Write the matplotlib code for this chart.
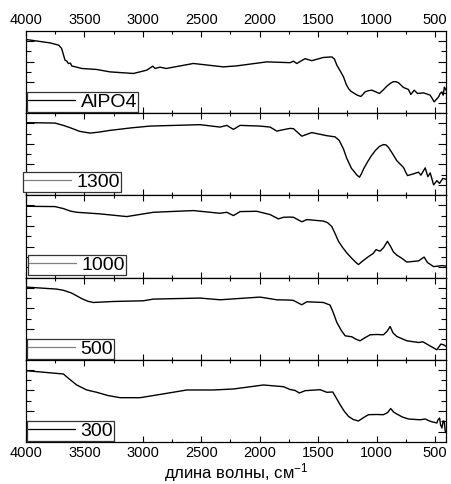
import numpy as np
import matplotlib
matplotlib.use("Agg")
import matplotlib.pyplot as plt
from matplotlib.ticker import MultipleLocator, FixedLocator

plt.rcParams['font.family'] = ['Liberation Sans', 'DejaVu Sans']
plt.rcParams['mathtext.fontset'] = 'custom'
plt.rcParams['mathtext.rm'] = 'Liberation Sans'
plt.rcParams['mathtext.it'] = 'Liberation Sans'

# IR spectra (wavenumber, cm^-1 ; transmittance, arbitrary units)
labels = ["AlPO4", "1300", "1000", "500", "300"]

wn_alpo4 = [4000, 3795, 3720, 3695, 3666, 3650, 3638, 3620, 3609, 3523, 3395, 3281, 3081,
            2967, 2915, 2895, 2853, 2800, 2568, 2311, 2197, 1939, 1740, 1711, 1683, 1612,
            1555, 1455, 1383, 1360, 1340, 1310, 1283, 1260, 1241, 1220, 1198, 1165, 1135,
            1115, 1098, 1070, 1041, 1010, 976, 945, 912, 880, 856, 835, 813, 770,
            727, 707, 678, 650, 598, 541, 507, 469, 455, 441, 430, 420, 413, 406]
t_alpo4 = [73.7, 70.3, 68.0, 64.7, 53.0, 52.0, 49.7, 50.0, 47.3, 44.7, 43.7, 41.3, 39.7,
           43.0, 47.0, 44.7, 46.0, 44.7, 49.7, 46.3, 47.3, 51.3, 50.5, 52.0, 49.7, 54.5,
           52.5, 55.7, 56.3, 54.0, 48.0, 42.0, 36.3, 29.0, 24.7, 22.0, 20.3, 18.0, 16.7,
           19.0, 21.3, 22.5, 23.0, 21.5, 19.7, 23.0, 27.0, 30.0, 31.5, 31.5, 30.5, 25.7,
           23.7, 18.7, 23.0, 19.7, 20.3, 18.0, 11.3, 16.3, 20.0, 21.3, 18.0, 26.0, 24.7, 23.0]

wn_1300 = [4000, 3850, 3752, 3680, 3623, 3540, 3452, 3380, 3281, 3100, 2938, 2510, 2339,
           2282, 2225, 2168, 1997, 1911, 1854, 1797, 1740, 1711, 1640, 1555, 1426, 1355,
           1320, 1283, 1255, 1232, 1215, 1198, 1170, 1146, 1130, 1112, 1080, 1045, 1012,
           975, 941, 920, 898, 865, 827, 800, 770, 750, 735, 700, 660, 641, 621, 584, 561,
           541, 512, 484, 461, 433, 404]
t_1300 = [72.7, 72.5, 72.3, 70.0, 67.7, 64.0, 62.3, 63.2, 65.0, 67.5, 69.3, 70.7, 68.3,
          70.0, 66.0, 70.0, 69.3, 68.3, 64.3, 65.7, 67.0, 66.7, 59.2, 62.8, 59.7, 58.5,
          55.0, 46.3, 37.0, 31.3, 27.0, 24.7, 20.5, 18.2, 21.5, 26.3, 33.0, 39.5, 44.7,
          49.0, 50.8, 50.5, 48.0, 42.0, 34.7, 31.5, 28.0, 23.0, 19.8, 21.0, 22.5, 23.2,
          20.2, 27.5, 18.7, 22.5, 10.5, 14.7, 12.0, 17.0, 16.0]

wn_1000 = [4000, 3752, 3680, 3620, 3566, 3366, 3138, 2910, 2568, 2339, 2282, 2225, 2168,
           2025, 1911, 1840, 1797, 1740, 1711, 1640, 1597, 1455, 1420, 1383, 1355, 1326,
           1290, 1255, 1210, 1180, 1155, 1120, 1069, 1030, 1004, 985, 969, 940, 907, 880,
           855, 827, 780, 741, 700, 641, 593, 564, 512, 470, 440, 406]
t_1000 = [71.3, 71.0, 69.0, 66.5, 65.3, 63.7, 61.0, 65.3, 67.0, 64.3, 65.3, 62.0, 66.0,
          66.3, 63.0, 58.7, 60.3, 60.5, 60.3, 55.8, 58.0, 56.5, 55.0, 51.0, 44.0, 36.3,
          30.0, 24.7, 19.0, 15.5, 13.0, 16.5, 21.0, 24.0, 28.0, 27.0, 26.5, 30.0, 36.3,
          31.0, 25.5, 22.5, 19.0, 15.5, 16.0, 16.7, 20.5, 15.0, 11.0, 11.5, 12.0, 11.5]

wn_500 = [4000, 3738, 3680, 3609, 3520, 3470, 3424, 3253, 2996, 2910, 2510, 2339, 1997,
          1854, 1740, 1711, 1640, 1597, 1455, 1398, 1370, 1340, 1300, 1269, 1240, 1212,
          1175, 1141, 1100, 1055, 1000, 941, 910, 884, 860, 827, 790, 741, 641, 604, 570,
          484, 450, 427, 413, 406]
t_500 = [72.7, 70.7, 69.5, 66.7, 61.0, 58.5, 57.3, 58.3, 59.0, 60.7, 61.7, 60.0, 62.7,
         60.0, 59.7, 59.3, 55.0, 58.0, 57.3, 54.7, 47.0, 37.3, 29.0, 24.0, 23.5, 23.0,
         20.5, 19.0, 22.0, 25.0, 25.3, 25.0, 28.5, 33.3, 27.0, 23.3, 21.5, 19.0, 17.3,
         18.0, 15.7, 10.0, 15.7, 15.0, 14.0, 13.5]

wn_300 = [4000, 3680, 3630, 3566, 3480, 3395, 3300, 3195, 3024, 2881, 2624, 2396, 2225,
          1968, 1797, 1740, 1697, 1660, 1612, 1483, 1426, 1375, 1345, 1312, 1275, 1241,
          1200, 1155, 1110, 1069, 1000, 941, 905, 879, 855, 827, 780, 727, 627, 584, 541,
          484, 475, 461, 452, 441, 430, 421, 413, 407]
t_300 = [71.3, 68.0, 63.0, 57.0, 52.0, 49.7, 46.5, 44.3, 44.3, 47.0, 52.0, 52.0, 53.0,
         57.0, 55.3, 52.5, 51.5, 49.0, 51.3, 52.3, 49.7, 50.0, 44.0, 37.3, 30.5, 25.7,
         22.5, 21.0, 24.5, 27.3, 27.5, 27.3, 29.5, 33.5, 30.0, 28.0, 25.0, 23.0, 22.2,
         23.0, 20.7, 19.0, 22.0, 24.0, 17.0, 14.0, 21.0, 20.7, 11.0, 10.0]

spectra = [(wn_alpo4, t_alpo4), (wn_1300, t_1300), (wn_1000, t_1000),
           (wn_500, t_500), (wn_300, t_300)]
handle_colors = ["black", "0.5", "0.5", "0.5", "black"]
legend_offsets = [(0.002, 0.01), (-0.007, 0.045), (0.004, 0.03), (0.002, 0.01), (0.002, 0.01)]

fig, axes = plt.subplots(5, 1, figsize=(4.52, 4.84), dpi=100, sharex=True)
fig.subplots_adjust(left=0.0575, right=0.9867, top=0.936, bottom=0.0868, hspace=0)

for i, (ax, (wn, t), lab) in enumerate(zip(axes, spectra, labels)):
    ax.plot(wn, t, color="black", lw=1.0, label=lab)
    ax.set_xlim(4000, 406)
    ax.set_ylim(0, 82.2)
    ax.xaxis.set_major_locator(MultipleLocator(500))
    ax.xaxis.set_minor_locator(MultipleLocator(250))
    ax.yaxis.set_major_locator(FixedLocator([10.3, 30.9, 51.5, 72.1]))
    ax.yaxis.set_minor_locator(FixedLocator([20.6, 41.2, 61.8]))
    ax.tick_params(axis="both", which="both", direction="in", top=True, right=True,
                   labelleft=False, labelbottom=(i == 4), labeltop=(i == 0),
                   labelsize=10.5, pad=3, width=0.8)
    ax.tick_params(axis="x", which="major", length=4.5)
    ax.tick_params(axis="x", which="minor", length=2.5)
    ax.tick_params(axis="y", which="major", length=5.5)
    ax.tick_params(axis="y", which="minor", length=3.5)
    for sp in ax.spines.values():
        sp.set_linewidth(0.9)
    leg = ax.legend(loc="lower left", bbox_to_anchor=legend_offsets[i], borderaxespad=0,
                    fontsize=14, handlelength=2.4, handletextpad=0.3, borderpad=0.06,
                    fancybox=False, framealpha=1, edgecolor="0.2")
    leg.get_frame().set_linewidth(0.9)
    for ln in leg.get_lines():
        ln.set_color(handle_colors[i])
        ln.set_linewidth(0.9)

axes[-1].set_xlabel("длина волны, см$^{-1}$", fontsize=12, labelpad=1)

fig.savefig("out.png", dpi=100)
